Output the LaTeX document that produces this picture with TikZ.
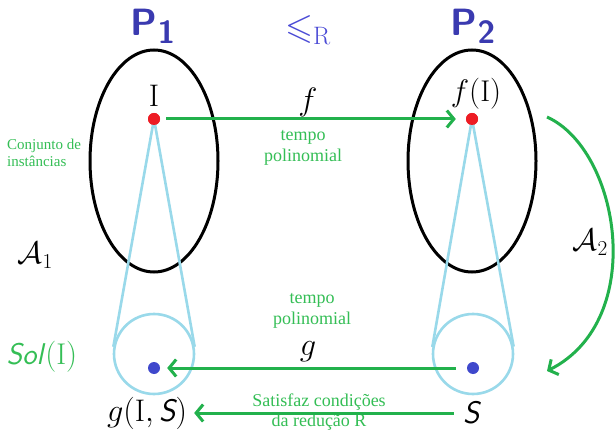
\documentclass[tikz,border=0pt]{standalone}
\usepackage{graphicx}
\usepackage{amssymb}
\usepackage{fontspec}
\newfontfamily\tnr{Liberation Serif}
\usetikzlibrary{arrows.meta,shapes.geometric,calc}
\definecolor{pgreen}{HTML}{22B14C}
\definecolor{ptext}{HTML}{34BE55}
\definecolor{pred}{HTML}{ED1C24}
\definecolor{pblue}{HTML}{3F48CC}
\definecolor{ptitle}{HTML}{3A3AB0}
\definecolor{pleq}{HTML}{4B4BD6}
\definecolor{plb}{HTML}{99D9EA}
\tikzset{
  setell/.style={draw=black, line width=3pt, ellipse, minimum width=128pt, minimum height=222pt, inner sep=0pt},
  solcirc/.style={draw=plb, line width=2.6pt, circle, minimum size=80pt, inner sep=0pt},
  reddot/.style={circle, fill=pred, minimum size=12pt, inner sep=0pt},
  bluedot/.style={circle, fill=pblue, minimum size=12pt, inner sep=0pt},
  lbline/.style={draw=plb, line width=2.6pt},
  garrow/.style={draw=pgreen, line width=3pt, -{Straight Barb[length=7pt,width=17pt]}},
  title/.style={text=ptitle, font=\sffamily\bfseries\fontsize{38}{38}\selectfont, anchor=base, inner sep=0pt},
  mlabel/.style={font=\fontsize{24}{24}\selectfont, inner sep=0pt},
  gtext/.style={text=ptext, font=\tnr\fontsize{18}{20.5}\selectfont, align=center, inner sep=0pt},
}
\begin{document}
\begin{tikzpicture}[x=1pt,y=-1pt]
\useasboundingbox[fill=white] (0,0) rectangle (615,430);
% titles
\node[title] (P1) at (153,36) {P\raisebox{-8pt}{\fontsize{32}{32}\selectfont 1}};
\node[title] (P2) at (473,36) {P\raisebox{-8pt}{\fontsize{32}{32}\selectfont 2}};
\node[anchor=base, inner sep=0pt, text=pleq, font=\fontsize{24}{24}\selectfont] (leq) at (308,39) {\scalebox{1.5}{$\leqslant_{\mathrm{R}}$}};
% sets
\node[setell] (E1) at (154,161) {};
\node[setell] (E2) at (472,161) {};
% solution circles
\node[solcirc] (C1) at (154,354) {};
\node[solcirc] (C2) at (473,354) {};
% dots
\node[reddot] (I) at (154,119) {};
\node[reddot] (fI) at (472,119) {};
\node[bluedot] (gd) at (154,368) {};
\node[bluedot] (Sd) at (473,368) {};
% tangent lines
\draw[lbline] (I.center) -- (tangent cs:node=C1,point={(I.center)},solution=1);
\draw[lbline] (I.center) -- (tangent cs:node=C1,point={(I.center)},solution=2);
\draw[lbline] (fI.center) -- (tangent cs:node=C2,point={(fI.center)},solution=1);
\draw[lbline] (fI.center) -- (tangent cs:node=C2,point={(fI.center)},solution=2);
\node[reddot] at (I) {};
\node[reddot] at (fI) {};
% labels
\node[mlabel, anchor=base] (Ilab) at (154,107) {\scalebox{1.3}{$\mathrm{I}$}};
\node[mlabel, anchor=base] (fIlab) at (476,102) {\scalebox{1.25}{$f(\mathrm{I})$}};
\node[mlabel] (flab) at (308,102) {\scalebox{1.3}{$f$}};
\node[mlabel] (glab) at (308,352) {\scalebox{1.3}{$g$}};
\node[mlabel] (gIS) at (147,413) {\scalebox{1.3}{$g(\mathrm{I},\textsf{\itshape S})$}};
\node[mlabel] (Slab) at (472,413) {\scalebox{1.3}{\textsf{\itshape S}}};
\node[mlabel, text=ptext] (sol) at (42,357) {\scalebox{1.25}{\textsf{\itshape Sol}$(\mathrm{I})$}};
\node[mlabel] (A1) at (35,255) {\scalebox{1.25}{$\mathcal{A}$\raisebox{-4pt}{\fontsize{17}{17}\selectfont 1}}};
\node[mlabel] (A2) at (590,242) {\scalebox{1.25}{$\mathcal{A}$\raisebox{-4pt}{\fontsize{17}{17}\selectfont 2}}};
\node[gtext, align=left, anchor=west, font=\tnr\fontsize{15}{17}\selectfont] (conj) at (7,153) {Conjunto de\\instâncias};
\node[gtext] (tp1) at (303,148) {tempo\\polinomial};
\node[gtext] (tp2) at (312,311) {tempo\\polinomial};
\node[gtext] (sat) at (319,412) {Satisfaz condições\\da redução R};
% arrows
\draw[garrow, shorten <=6pt, shorten >=10pt] (I) -- (fI);
\draw[garrow, shorten <=11pt, shorten >=7pt] (Sd) -- (gd);
\draw[garrow, shorten <=9pt, shorten >=7pt] (Slab) -- (gIS);
\coordinate (a2s) at (547,117);
\coordinate (a2e) at (547,371);
\draw[garrow] (a2s) .. controls (620,150) and (648,320) .. (a2e);
\end{tikzpicture}
\end{document}
